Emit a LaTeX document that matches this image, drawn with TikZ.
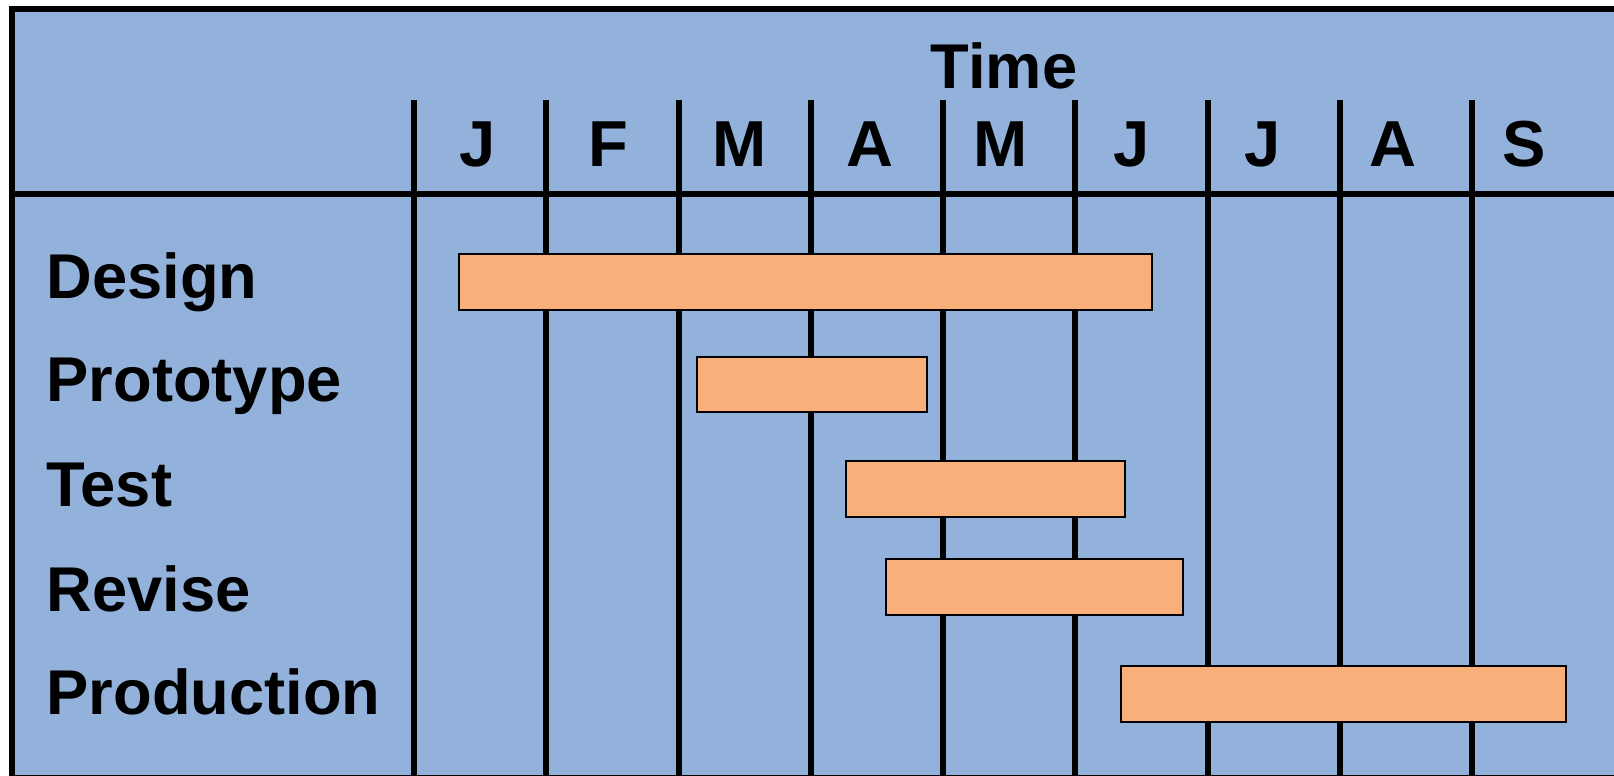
\documentclass[tikz,border=0pt]{standalone}
\usepackage{fontspec}
\setmainfont{Liberation Sans}
\usetikzlibrary{positioning}
\definecolor{chartblue}{RGB}{147,178,219}
\definecolor{barorange}{RGB}{248,175,122}
\tikzset{task/.style=
   {anchor=base west,
    inner sep=0pt,
    font=\fontsize{18}{22}\selectfont\bfseries}}
\tikzset{month/.style=
   {anchor=base,
    inner sep=0pt,
    font=\fontsize{18.5}{22}\selectfont\bfseries}}
\tikzset{bar/.style = {draw, fill=barorange, line width=0.2mm}}
\tikzset{gridline/.style = {draw, line width=0.6mm}}

\begin{document}
\begin{tikzpicture}[x=0.1mm, y=-0.1mm]

    \useasboundingbox (0,0) rectangle (1614,776);
    \clip (0,0) rectangle (1614,776);

    % Background and frame
    \draw [fill=chartblue, line width=0.6mm] (12,9) rectangle (1660,778);

    % Month columns
    \foreach \i in {0,...,8}
        \path [gridline] ({414+132.25*\i},100) -- ({414+132.25*\i},790);
    \path [gridline] (15,194) -- (1660,194);

    % Place nodes
    \node [month, font=\fontsize{18}{22}\selectfont\bfseries] (time) at (1004,89) {Time};
    \foreach \m [count=\i from 0] in {J,F,M,A,M,J,J,A,S}
        \node [month] (month\i) at ({478+130.75*\i},167) {\m};

    \node [task] (design) at (46,299) {Design};
    \node [task] (prototype) at (46,402) {Prototype};
    \node [task] (test) at (46,507) {Test};
    \node [task] (revise) at (46,611) {Revise};
    \node [task] (production) at (46,714) {Production};

    % Draw bars
    \draw [bar] (459,254) rectangle (1152,310);
    \draw [bar] (697,357) rectangle (927,412);
    \draw [bar] (846,461) rectangle (1125,517);
    \draw [bar] (886,559) rectangle (1183,615);
    \draw [bar] (1121,666) rectangle (1566,722);

\end{tikzpicture}
\end{document}
